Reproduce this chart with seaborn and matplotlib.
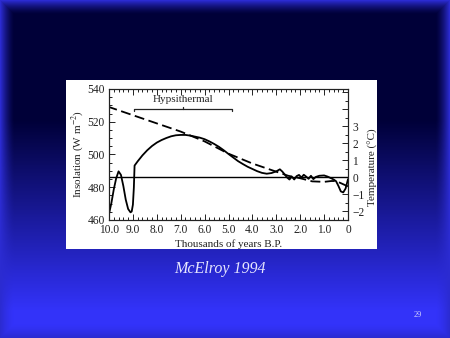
import numpy as np
import pandas as pd
import matplotlib
matplotlib.use("Agg")
import matplotlib.pyplot as plt
from matplotlib.ticker import MultipleLocator, FixedLocator
import seaborn as sns

# ---------------- data ----------------
years_temp = [10.0, 9.9, 9.8, 9.7, 9.6, 9.5, 9.4, 9.3, 9.2, 9.1, 9.05, 9.0, 8.96, 8.93,
              8.8, 8.6, 8.4, 8.2, 8.0, 7.8, 7.6, 7.4, 7.2, 7.0, 6.8, 6.6, 6.4, 6.2, 6.0,
              5.8, 5.6, 5.4, 5.2, 5.0, 4.8, 4.6, 4.4, 4.2, 4.0, 3.8, 3.6, 3.4, 3.2, 3.0,
              2.85, 2.75, 2.65, 2.55, 2.45, 2.35, 2.25, 2.15, 2.05, 1.95, 1.85, 1.75,
              1.65, 1.55, 1.45, 1.35, 1.2, 1.0, 0.85, 0.7, 0.6, 0.5, 0.4, 0.3, 0.2,
              0.1, 0.0]
temp = [-2.14, -1.5, -0.7, -0.05, 0.36, 0.15, -0.5, -1.3, -1.85, -2.05, -2.0, -1.6, -0.6, 0.7,
        0.95, 1.3, 1.6, 1.85, 2.05, 2.2, 2.32, 2.42, 2.48, 2.5, 2.5, 2.46, 2.4, 2.34, 2.25,
        2.12, 1.97, 1.8, 1.6, 1.38, 1.17, 0.96, 0.79, 0.63, 0.5, 0.37, 0.27, 0.22, 0.26, 0.36,
        0.48, 0.35, 0.18, 0.0, -0.12, 0.05, -0.12, 0.08, 0.15, 0.0, 0.16, 0.05, -0.08,
        0.1, -0.1, 0.03, 0.1, 0.12, 0.05, -0.05, -0.12, -0.22, -0.5, -0.82, -0.88,
        -0.65, -0.1]

years_ins = [10.0, 9.0, 8.0, 7.0, 6.0, 5.0, 4.0, 3.5, 3.0, 2.5, 2.0, 1.5, 1.0, 0.7,
             0.5, 0.3, 0.0]
insolation = [529.0, 524.0, 519.0, 514.0, 508.0, 500.5, 494.5, 492.0, 489.5, 487.0,
              485.5, 483.6, 483.3, 483.8, 483.8, 482.5, 480.5]

x_ticks = [10, 9, 8, 7, 6, 5, 4, 3, 2, 1, 0]
x_tick_labels = ["10.0", "9.0", "8.0", "7.0", "6.0", "5.0", "4.0", "3.0", "2.0", "1.0", "0"]
ins_ticks = [460, 480, 500, 520, 540]
temp_ticks = [-2, -1, 0, 1, 2, 3]
temp_tick_labels = ["\u22122", "\u22121", "0", "1", "2", "3"]
hyps_span = [8.95, 4.85]
hyps_level = 528.0

# ---------------- style ----------------
sns.set_theme(style="ticks")
plt.rcParams["font.family"] = ["Liberation Serif", "DejaVu Serif"]
plt.rcParams["mathtext.fontset"] = "stix"

W, H = 450, 338
fig = plt.figure(figsize=(4.5, 3.38), dpi=100)

# background gradient
bg = fig.add_axes([0, 0, 1, 1], zorder=-10)
bg.set_axis_off()
yy, xx = np.mgrid[0:H, 0:W]
t = np.clip((yy - 120) / 190.0, 0, 1)
navy = np.array([0.0, 0.0, 0.22])
blue = np.array([0.2, 0.2, 0.98])
img = navy[None, None, :] * (1 - t[..., None]) + blue[None, None, :] * t[..., None]
edge = np.minimum.reduce([xx, W - 1 - xx, yy, H - 1 - yy]).astype(float)
e = np.clip(1 - edge / 14.0, 0, 1) ** 1.5
border = np.array([0.17, 0.17, 0.82])
img = img * (1 - e[..., None]) + border[None, None, :] * e[..., None]
bg.imshow(img, extent=[0, 1, 0, 1], aspect="auto", origin="upper")
bg.set_xlim(0, 1)
bg.set_ylim(0, 1)

# white figure panel
bg.add_patch(plt.Rectangle((66 / W, 1 - 249 / H), 311 / W, 169 / H,
                           facecolor="white", edgecolor="none", zorder=2))

TXT = "#222222"
FS = 8.3

# main axes
ax = fig.add_axes([109 / W, 1 - 220 / H, 239 / W, 131 / H])
ax.set_facecolor("white")
sns.lineplot(x=years_ins, y=insolation, ax=ax, color="black", lw=1.3,
             linestyle=(0, (5.5, 2.5)))
ax.set_xlim(10, 0)
ax.set_ylim(460, 540)
ax.set_xticks(x_ticks)
ax.set_xticklabels(x_tick_labels)
ax.set_yticks(ins_ticks)
ax.xaxis.set_minor_locator(MultipleLocator(0.2))
ax.yaxis.set_minor_locator(MultipleLocator(5))
ax.tick_params(which="both", direction="in", top=True, right=False, labelsize=FS,
               width=0.7, colors=TXT)
ax.tick_params(axis="x", pad=3)
ax.tick_params(axis="y", pad=3)
ax.tick_params(which="major", length=4)
ax.tick_params(which="minor", length=2)
ax.set_xlabel("Thousands of years B.P.", fontsize=8, labelpad=2, color=TXT)
ax.set_ylabel("Insolation (W m$^{-2}$)", fontsize=8, labelpad=1, color=TXT)
for s in ax.spines.values():
    s.set_linewidth(0.8)
    s.set_color(TXT)

# hypsithermal bracket
ax.plot([hyps_span[0], hyps_span[0], hyps_span[1], hyps_span[1]],
        [hyps_level - 1.4, hyps_level, hyps_level, hyps_level - 1.4],
        color=TXT, lw=0.9)
mid = (hyps_span[0] + hyps_span[1]) / 2
ax.plot([mid, mid], [hyps_level, hyps_level + 1.3], color=TXT, lw=0.9)
ax.text(mid, hyps_level + 2.6, "Hypsithermal", ha="center", va="bottom",
        fontsize=8, color=TXT)

# temperature axis
ax2 = ax.twinx()
sns.lineplot(x=years_temp, y=temp, ax=ax2, color="black", lw=1.3)
ax2.axhline(0, color="black", lw=1.0)
ax2.set_ylim(-2.5, 5.2)
ax2.set_xlim(10, 0)
ax2.yaxis.set_major_locator(FixedLocator([-2, -1, 0, 1, 2, 3, 4, 5]))
ax2.set_yticklabels(temp_tick_labels + ["", ""])
ax2.yaxis.set_minor_locator(MultipleLocator(0.5))
ax2.tick_params(which="both", direction="in", labelsize=FS, width=0.7, pad=3,
                colors=TXT)
ax2.tick_params(which="major", length=4)
ax2.tick_params(which="minor", length=2)
ax2.set_ylabel("Temperature (\u00b0C)", fontsize=8, color=TXT)
ax2.yaxis.set_label_coords(1.085, 0.4)
for s in ax2.spines.values():
    s.set_linewidth(0.8)
    s.set_color(TXT)

# captions
fig.text(220 / W, 1 - 269 / H, "McElroy 1994", ha="center", va="center",
         fontsize=11.5, style="italic", color="#e6e6ff")
fig.text(418 / W, 1 - 315 / H, "29", ha="center", va="center", fontsize=6,
         color="#d0d0ff")

fig.savefig("out.png", dpi=100)
